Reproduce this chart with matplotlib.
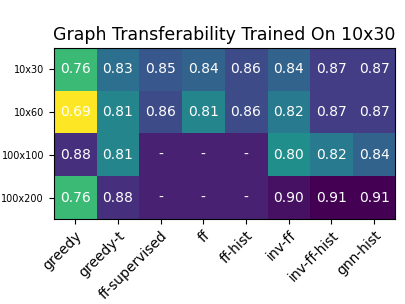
import numpy as np
import matplotlib
matplotlib.use("Agg")
from matplotlib import pyplot as plt

# data
methods = ["greedy", "greedy-t", "ff-supervised", "ff", "ff-hist",
           "inv-ff", "inv-ff-hist", "gnn-hist"]
graphs = ["10x30", "10x60", "100x100", "100x200"]

row_10x30 = [0.76, 0.83, 0.85, 0.84, 0.86, 0.84, 0.87, 0.87]
row_10x60 = [0.69, 0.81, 0.86, 0.81, 0.86, 0.82, 0.87, 0.87]
row_100x100 = [0.88, 0.81, None, None, None, 0.80, 0.82, 0.84]
row_100x200 = [0.76, 0.88, None, None, None, 0.90, 0.91, 0.91]
missing_fill = 0.89  # colour used for runs that were not done

rows = [row_10x30, row_10x60, row_100x100, row_100x200]
vals = np.array([[missing_fill if v is None else v for v in r] for r in rows])

fig, ax = plt.subplots(figsize=(4.05, 3.04), dpi=100)
ax.imshow(vals, cmap="viridis_r")

for i, r in enumerate(rows):
    for j, v in enumerate(r):
        txt = "-" if v is None else "%.2f" % v
        ax.text(j, i, txt, ha="center", va="center", color="w", fontsize=10)

ax.set_xticks(np.arange(len(methods)))
ax.set_yticks(np.arange(len(graphs)))
ax.set_xticklabels(methods, rotation=45, ha="right", rotation_mode="anchor",
                   fontsize=10)
ax.set_yticklabels(graphs, fontsize=7)
ax.set_title("Graph Transferability Trained On 10x30", fontsize=12.5)

fig.subplots_adjust(left=0.131, right=0.978, top=0.842, bottom=0.28)
fig.savefig("out.png")
